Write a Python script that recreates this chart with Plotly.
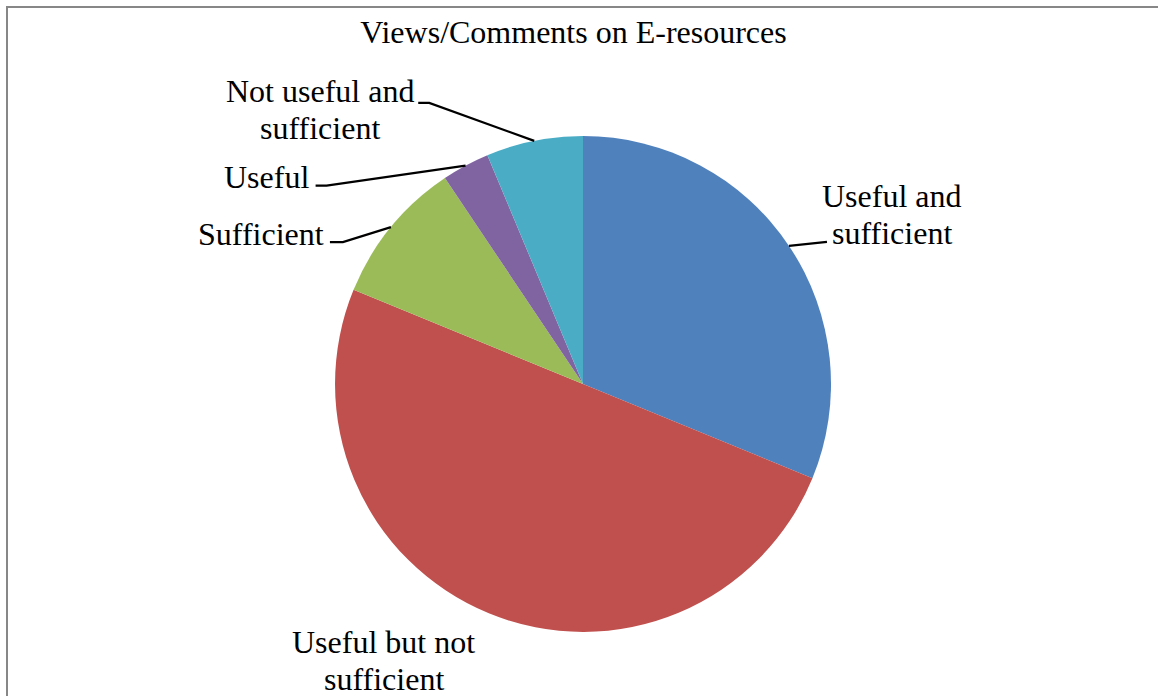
import math
import plotly.graph_objects as go

# ---- data ----
labels = ["Useful and sufficient", "Useful but not sufficient", "Sufficient",
          "Useful", "Not useful and sufficient"]
values = [31.2, 50.0, 9.4, 3.1, 6.3]
label_lines = [["Useful and", "sufficient"], ["Useful but not", "sufficient"],
               ["Sufficient"], ["Useful"], ["Not useful and", "sufficient"]]
colors = ["#4F81BD", "#C0504D", "#9BBB59", "#8064A2", "#4BACC6"]
title = "Views/Comments on E-resources"

# ---- layout geometry (pixels) ----
W, H = 1158, 696
ML, MR, MT, MB = 133, 125, 136, 64
PW, PH = W - ML - MR, H - MT - MB
CX, CY = ML + PW / 2, MT + PH / 2
R = min(PW, PH) / 2
FONT = "Liberation Serif, Times New Roman, serif"
FS = 32
LINE_H = 37

# label styling: leader-line bend offsets and text placement relative to slice edge midpoint
styles = [
    dict(pts=[(38, -4)], txt=(103, -31), xanchor="center"),
    dict(pts=[], txt=(-105, 47), xanchor="center"),
    dict(pts=[(-48, 15), (-61, 15)], txt=(-65, 7), xanchor="right"),
    dict(pts=[(-139, 20), (-150, 20)], txt=(-155, 11), xanchor="right"),
    dict(pts=[(-105, -38), (-116, -38)], txt=(-214, -31), xanchor="center"),
]


def to_paper(px, py):
    return (px - ML) / PW, (H - MB - py) / PH


fig = go.Figure(go.Pie(
    labels=labels, values=values, sort=False, direction="clockwise", rotation=0,
    marker=dict(colors=colors, line=dict(width=0)), textinfo="none",
    hoverinfo="label+value", showlegend=False,
))

shapes = []
annotations = []
total = sum(values)
cum = 0.0
for i, v in enumerate(values):
    mid = (cum + v / 2) / total * 2 * math.pi
    cum += v
    ax, ay = CX + R * math.sin(mid), CY - R * math.cos(mid)
    st = styles[i]
    if st["pts"]:
        pts = [(ax, ay)] + [(ax + dx, ay + dy) for dx, dy in st["pts"]]
        path = ""
        for k, (px, py) in enumerate(pts):
            xp, yp = to_paper(px, py)
            path += ("M" if k == 0 else " L") + f"{xp:.5f},{yp:.5f}"
        shapes.append(dict(type="path", path=path, xref="paper", yref="paper",
                           line=dict(color="black", width=2.2)))
    tx, ty = ax + st["txt"][0], ay + st["txt"][1]
    lines = label_lines[i]
    n = len(lines)
    for j, ln in enumerate(lines):
        ly = ty + (j - (n - 1) / 2) * LINE_H
        xp, yp = to_paper(tx, ly)
        annotations.append(dict(text=ln, x=xp, y=yp, xref="paper", yref="paper",
                                xanchor=st["xanchor"], yanchor="middle", showarrow=False,
                                font=dict(family=FONT, size=FS, color="black")))

# chart border
bx0, by0 = to_paper(7, 7)
bx1, by1 = to_paper(1170, 710)
shapes.append(dict(type="rect", xref="paper", yref="paper", x0=bx0, y0=by1, x1=bx1, y1=by0,
                   line=dict(color="#878787", width=2), fillcolor="rgba(0,0,0,0)"))

fig.update_layout(
    width=W, height=H,
    margin=dict(l=ML, r=MR, t=MT, b=MB),
    paper_bgcolor="white", plot_bgcolor="white",
    title=dict(text=title, x=573.5 / W, xanchor="center", y=1 - 32 / H, yanchor="middle",
               font=dict(family=FONT, size=FS, color="black")),
    shapes=shapes, annotations=annotations,
)

fig.write_html("out.html", config={"displayModeBar": False},
               post_script="document.body.style.margin='0px';")
